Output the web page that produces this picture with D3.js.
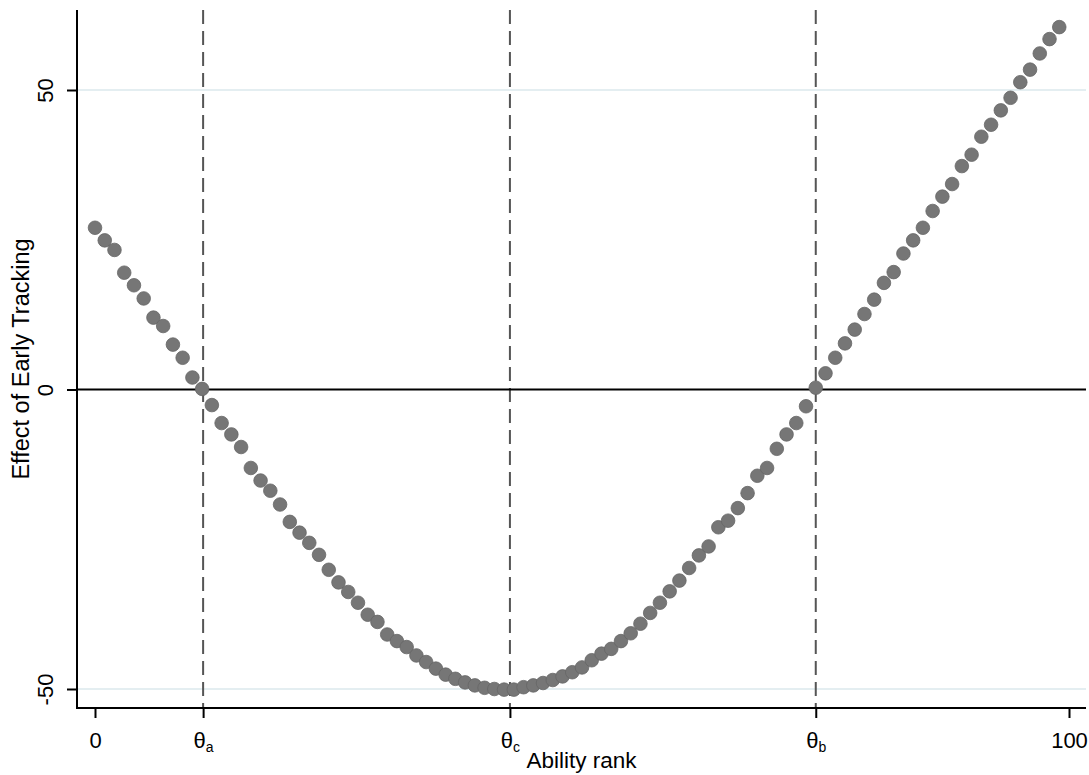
<!DOCTYPE html>
<html lang="en">
<head>
  <meta charset="UTF-8">
  <title>Effect of Early Tracking</title>
  <script src="https://d3js.org/d3.v7.min.js"></script>
  <style>
    body { margin: 0; background: #fff; }
    svg { display: block; font-family: "Liberation Sans", Arial, sans-serif; }
  </style>
</head>
<body>
<div class="main"></div>
<script>
  // effect of early tracking at each ability rank (rank = index, 0..99)
  var effects = [
    27.0, 24.9, 23.3, 19.5, 17.4, 15.2, 12.0, 10.6, 7.5, 5.3,
    2.0, 0.1, -2.6, -5.6, -7.5, -9.6, -13.1, -15.2, -16.9, -19.2,
    -22.1, -23.9, -25.6, -27.6, -30.1, -32.2, -33.8, -35.6, -37.6, -38.8,
    -40.9, -42.0, -43.0, -44.4, -45.5, -46.6, -47.6, -48.3, -48.9, -49.4,
    -49.8, -50.0, -50.1, -50.1, -49.7, -49.4, -49.0, -48.5, -47.9, -47.2,
    -46.4, -45.2, -44.1, -43.3, -42.0, -40.7, -39.1, -37.3, -35.6, -33.7,
    -31.9, -29.8, -27.7, -26.2, -23.0, -21.9, -19.8, -17.3, -14.4, -13.1,
    -9.9, -7.5, -5.6, -2.8, 0.3, 2.7, 5.3, 7.7, 10.0, 12.6,
    15.0, 17.8, 19.6, 22.7, 24.9, 27.0, 29.8, 32.2, 34.3, 37.3,
    39.2, 42.2, 44.2, 46.6, 48.7, 51.3, 53.4, 56.1, 58.5, 60.5
  ];

  // thresholds marked with dashed lines
  var thetaValues = [11.1, 42.6, 74.0];

  var xTickValues = [0, 11.1, 42.6, 74.0, 100];
  var xTickLabels = ["0", "θ|a", "θ|c", "θ|b", "100"];
  var yTickValues = [-50, 0, 50];
  var yGridValues = [-50, 50];

  var width = 1089, height = 775;
  var plotLeft = 77, plotRight = 1086, plotTop = 10, plotBottom = 708;
  var fontSize = 22;

  var svg = d3.select(".main")
          .append("svg")
          .attr("width", width)
          .attr("height", height);

  var xScale = d3.scaleLinear().domain([0, 100]).range([95, 1069]);
  var yScale = d3.scaleLinear().domain([-50, 50]).range([689, 90]);

  // light gridlines
  svg.append("g").selectAll("line")
          .data(yGridValues)
          .join("line")
          .attr("x1", plotLeft).attr("x2", plotRight)
          .attr("y1", d => yScale(d)).attr("y2", d => yScale(d))
          .attr("stroke", "#e4eef1")
          .attr("stroke-width", 2);

  // dashed vertical lines
  svg.append("g").selectAll("line")
          .data(thetaValues)
          .join("line")
          .attr("x1", d => xScale(d)).attr("x2", d => xScale(d))
          .attr("y1", plotTop).attr("y2", plotBottom)
          .attr("stroke", "#555")
          .attr("stroke-width", 2)
          .attr("stroke-dasharray", "14,7");

  // zero line
  svg.append("line")
          .attr("x1", plotLeft).attr("x2", plotRight)
          .attr("y1", yScale(0)).attr("y2", yScale(0))
          .attr("stroke", "#000")
          .attr("stroke-width", 2);

  // points
  svg.append("g").selectAll("circle")
          .data(effects)
          .join("circle")
          .attr("cx", (d, i) => xScale(i))
          .attr("cy", d => yScale(d))
          .attr("r", 6.8)
          .attr("fill", "#767676")
          .attr("stroke", "#666")
          .attr("stroke-width", 0.8);

  // axes
  var xAxis = d3.axisBottom(xScale)
          .tickValues(xTickValues)
          .tickSize(10)
          .tickPadding(14)
          .tickFormat("");

  var xg = svg.append("g")
          .attr("transform", `translate(0, ${plotBottom})`)
          .call(xAxis);
  xg.select(".domain").remove();
  xg.selectAll(".tick line").attr("stroke", "#000").attr("stroke-width", 2);
  xg.selectAll(".tick text")
          .attr("font-size", fontSize)
          .attr("font-family", null)
          .attr("fill", "#000")
          .each(function (d, i) {
            var parts = xTickLabels[i].split("|");
            var t = d3.select(this);
            t.append("tspan").text(parts[0]);
            if (parts[1]) {
              t.append("tspan").text(parts[1])
                      .attr("font-size", 14)
                      .attr("dy", 4);
            }
          });

  var yAxis = d3.axisLeft(yScale)
          .tickValues(yTickValues)
          .tickSize(10)
          .tickFormat(d => String(d));

  var yg = svg.append("g")
          .attr("transform", `translate(${plotLeft}, 0)`)
          .call(yAxis);
  yg.select(".domain").remove();
  yg.selectAll(".tick line").attr("stroke", "#000").attr("stroke-width", 2);
  yg.selectAll(".tick text")
          .attr("font-size", fontSize)
          .attr("font-family", null)
          .attr("fill", "#000")
          .attr("transform", "rotate(-90)")
          .attr("x", 0)
          .attr("y", -24)
          .attr("dy", 0)
          .attr("text-anchor", "middle");

  // axis lines
  svg.append("line")
          .attr("x1", plotLeft).attr("x2", plotLeft)
          .attr("y1", plotTop).attr("y2", plotBottom + 1)
          .attr("stroke", "#000").attr("stroke-width", 2);
  svg.append("line")
          .attr("x1", plotLeft - 1).attr("x2", plotRight)
          .attr("y1", plotBottom).attr("y2", plotBottom)
          .attr("stroke", "#000").attr("stroke-width", 2);

  // titles
  svg.append("text")
          .attr("x", (plotLeft + plotRight) / 2)
          .attr("y", 768)
          .attr("text-anchor", "middle")
          .attr("font-size", 22.5)
          .text("Ability rank");

  svg.append("text")
          .attr("transform", `translate(29, ${(plotTop + plotBottom) / 2}) rotate(-90)`)
          .attr("text-anchor", "middle")
          .attr("font-size", 23.5)
          .text("Effect of Early Tracking");
</script>
</body>
</html>
